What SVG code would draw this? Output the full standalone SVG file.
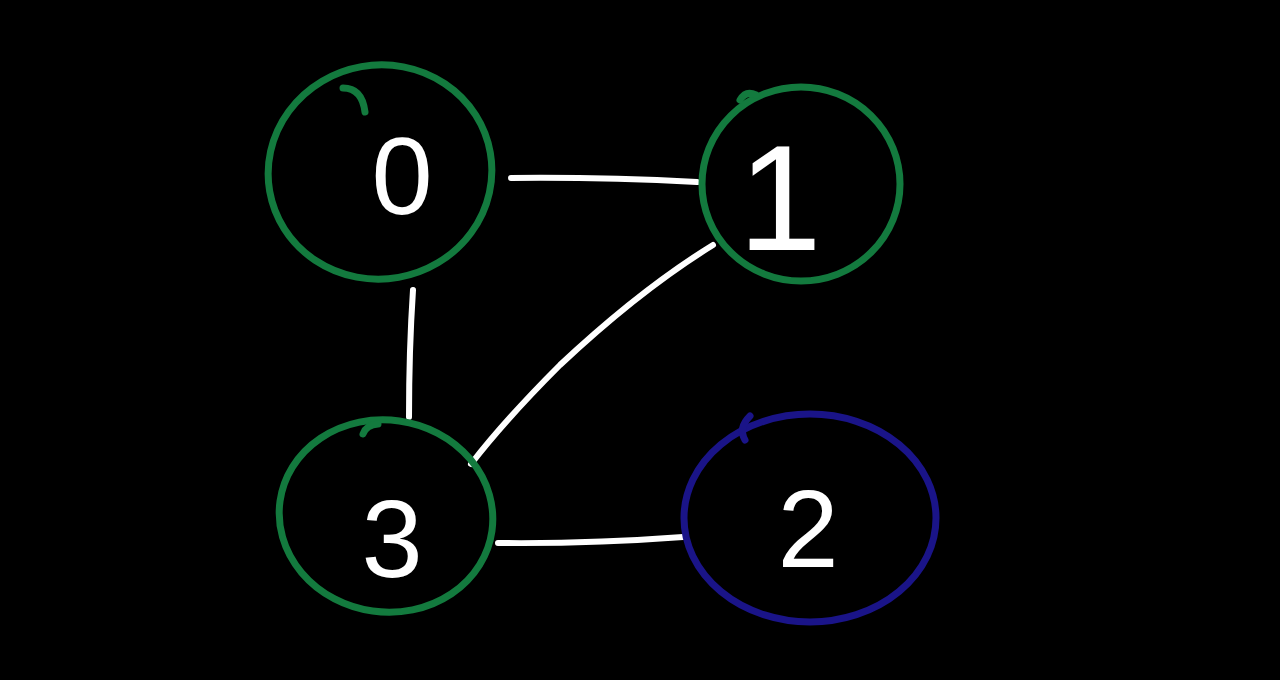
<svg xmlns="http://www.w3.org/2000/svg" width="1280" height="680" viewBox="0 0 1280 680">
<style>
.ring{fill:none;stroke-width:7;stroke-linecap:round}
.g{stroke:#137a3e}
.b{stroke:#1a1488}
.lbl{font-family:"Liberation Sans",Arial,sans-serif;fill:#fff;text-anchor:middle;font-weight:normal}
.edge{stroke:#fff;stroke-width:6;stroke-linecap:round;fill:none}
</style>
<rect width="1280" height="680" fill="#000"/>
<g id="edges">
<path class="edge" d="M511,178 Q600,177 697,182"/>
<path class="edge" d="M413,290 Q409,350 409,417"/>
<path class="edge" d="M713,245 Q640,290 560,365 Q505,420 471,464"/>
<path class="edge" d="M498,543 Q590,544 683,537"/>
</g>
<g id="node0">
<ellipse class="ring g" cx="380" cy="172" rx="112" ry="107" transform="rotate(-10 380 172)"/>
<path class="ring g" d="M343,88 Q362,88 365,112"/>
<text class="lbl" x="402" y="214" font-size="110">0</text>
</g>
<g id="node1">
<ellipse class="ring g" cx="801" cy="184" rx="99" ry="97"/>
<path class="ring g" d="M740,100 Q746,90 756,95"/>
<text class="lbl" x="780" y="250" font-size="150">1</text>
</g>
<g id="node3">
<ellipse class="ring g" cx="386" cy="516" rx="107" ry="96" transform="rotate(8 386 516)"/>
<path class="ring g" d="M363,434 Q366,425 378,424"/>
<text class="lbl" x="392" y="577" font-size="110">3</text>
</g>
<g id="node2">
<ellipse class="ring b" cx="810" cy="518" rx="126" ry="104"/>
<path class="ring b" d="M745,440 Q738,428 750,416"/>
<text class="lbl" x="808" y="567" font-size="110">2</text>
</g>
</svg>
